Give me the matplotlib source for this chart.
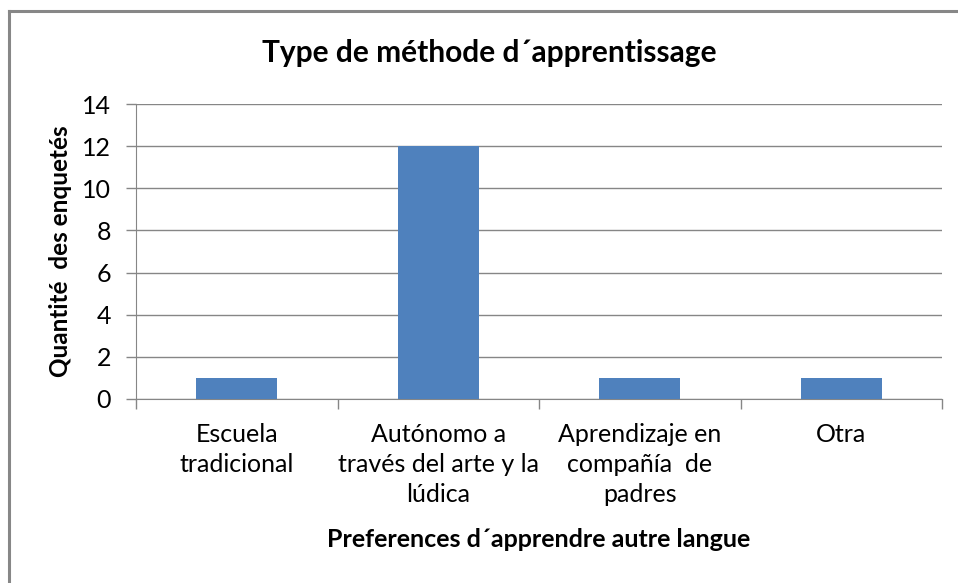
import matplotlib.pyplot as plt
from matplotlib.lines import Line2D

categories = ["Escuela\ntradicional",
              "Autónomo a\ntravés del arte y la\nlúdica",
              "Aprendizaje en\ncompañía  de\npadres",
              "Otra"]
values = [1, 12, 1, 1]
yticks = [0, 2, 4, 6, 8, 10, 12, 14]

plt.rcParams['font.family'] = ['Lato', 'DejaVu Sans']
GRAY = '#868686'

fig = plt.figure(figsize=(9.58, 5.83), dpi=100)
ax = fig.add_axes([136 / 958, 1 - 399 / 583, 806 / 958, 295 / 583])

x = list(range(len(categories)))
ax.bar(x, values, width=0.4, color='#4F81BD', zorder=3)

ax.set_xlim(-0.5, len(categories) - 0.5)
ax.set_ylim(0, 14)
ax.set_yticks(yticks)
ax.yaxis.grid(True, color=GRAY, linewidth=1)
ax.set_axisbelow(True)

ax.set_xticks(x)
ax.set_xticklabels(categories, fontsize=18, linespacing=1.38)
ax.set_xticks([i - 0.5 for i in range(len(categories) + 1)], minor=True)
ax.tick_params(axis='x', which='major', length=0, pad=17)
ax.tick_params(axis='x', which='minor', length=7, color=GRAY, width=1)
ax.tick_params(axis='y', length=7, color=GRAY, width=1, labelsize=18, pad=11)

for s in ['top', 'right']:
    ax.spines[s].set_visible(False)
for s in ['left', 'bottom']:
    ax.spines[s].set_color(GRAY)

ax.set_ylabel('Quantité  des enquetés', fontsize=17.5, fontweight='bold', labelpad=7)
ax.set_xlabel('Preferences d´apprendre autre langue', fontsize=18,
              fontweight='bold', labelpad=16)
fig.text(0.511, 1 - 53 / 583, 'Type de méthode d´apprentissage', fontsize=21.5,
         fontweight='bold', ha='center', va='center')

# chart frame (only left and top edges are visible)
fig.add_artist(Line2D([9 / 958, 9 / 958], [0, 1 - 11 / 583], color='#878787',
                      linewidth=2.2, transform=fig.transFigure))
fig.add_artist(Line2D([9 / 958, 1], [1 - 11 / 583, 1 - 11 / 583], color='#878787',
                      linewidth=2.2, transform=fig.transFigure))

fig.savefig('out.png', dpi=100)
